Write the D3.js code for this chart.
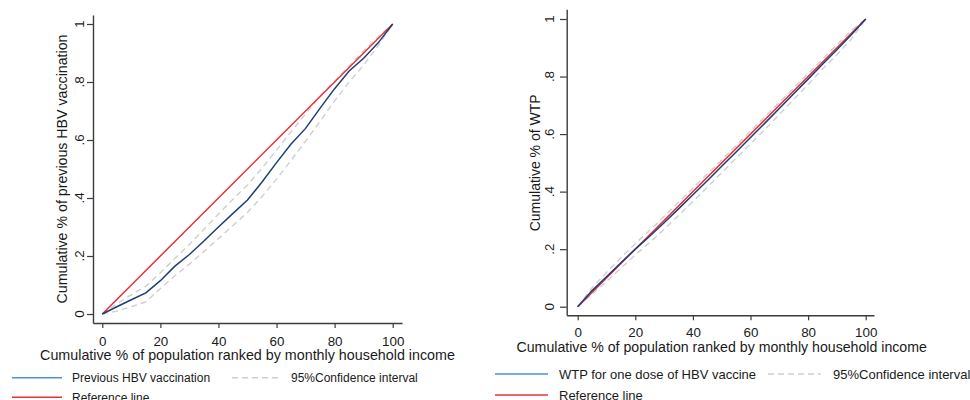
<!DOCTYPE html>
<html>
<head>
<meta charset="utf-8">
<script src="https://cdn.jsdelivr.net/npm/d3@7"></script>
<style>
  html, body { margin: 0; padding: 0; background: #fff; }
  svg { display: block; }
  text { font-family: "Liberation Sans", Arial, sans-serif; fill: #1a1a1a; }
</style>
</head>
<body>
<svg id="chart" width="970" height="400"></svg>
<script>
// ---------------- DATA ----------------
const popPct = [0, 5, 10, 15, 20, 25, 30, 35, 40, 45, 50, 55, 60, 65, 70, 75, 80, 85, 90, 95, 100];

// Left panel: concentration curve of previous HBV vaccination
const vaccConc  = [0, 0.025, 0.049, 0.073, 0.115, 0.165, 0.205, 0.252, 0.300, 0.347, 0.393, 0.455, 0.522, 0.586, 0.640, 0.710, 0.777, 0.838, 0.882, 0.935, 1.0];
const vaccUpper = [0, 0.035, 0.066, 0.096, 0.142, 0.192, 0.240, 0.292, 0.345, 0.396, 0.445, 0.503, 0.565, 0.628, 0.690, 0.752, 0.803, 0.856, 0.907, 0.956, 1.0];
const vaccLower = [0, 0.010, 0.025, 0.042, 0.088, 0.132, 0.172, 0.216, 0.260, 0.305, 0.350, 0.405, 0.465, 0.530, 0.596, 0.664, 0.735, 0.800, 0.858, 0.925, 1.0];

// Right panel: concentration curve of WTP for one dose of HBV vaccine
const wtpConc  = [0, 0.056, 0.104, 0.153, 0.200, 0.245, 0.292, 0.340, 0.389, 0.438, 0.488, 0.538, 0.588, 0.638, 0.689, 0.740, 0.791, 0.843, 0.893, 0.945, 1.0];
const wtpUpper = [0, 0.066, 0.119, 0.170, 0.219, 0.266, 0.314, 0.363, 0.412, 0.461, 0.510, 0.560, 0.610, 0.660, 0.710, 0.760, 0.810, 0.860, 0.910, 0.960, 1.0];
const wtpLower = [0, 0.044, 0.088, 0.134, 0.180, 0.223, 0.269, 0.317, 0.366, 0.415, 0.466, 0.516, 0.566, 0.616, 0.668, 0.720, 0.772, 0.826, 0.876, 0.930, 1.0];

// Reference (equality) line
const refX = [0, 100];
const refY = [0, 1];

// Ticks
const xTicks = [0, 20, 40, 60, 80, 100];
const yTicks = [0, 0.2, 0.4, 0.6, 0.8, 1];
const yTickLabels = ["0", ".2", ".4", ".6", ".8", "1"];

// Text
const xTitle = "Cumulative % of population ranked by monthly household income";
const leftYTitle = "Cumulative % of previous HBV vaccination";
const rightYTitle = "Cumulative % of WTP";
const leftSeriesName = "Previous HBV vaccination";
const rightSeriesName = "WTP for one dose of HBV vaccine";
const ciName = "95%Confidence interval";
const refName = "Reference line";

// ---------------- STYLE ----------------
const COL_CONC = "#1d3f78";
const COL_CONC_LEG = "#4a93d3";
const COL_REF = "#e8303b";
const COL_CI = "#cfcfcf";
const COL_AXIS = "#3c3c3c";
const FONT = '"Liberation Sans", Arial, sans-serif';

const svg = d3.select("#chart");

function panel(cfg) {
  const g = svg.append("g");
  const x = d3.scaleLinear().domain(cfg.xDom).range(cfg.xRange);
  const y = d3.scaleLinear().domain(cfg.yDom).range(cfg.yRange);

  // x axis
  const xa = g.append("g")
    .attr("transform", `translate(0,${cfg.yRange[0]})`)
    .call(d3.axisBottom(x).tickValues(xTicks).tickSize(5).tickPadding(cfg.xPad).tickSizeOuter(0));
  xa.attr("font-size", null).attr("font-family", null);
  xa.select(".domain").attr("stroke", COL_AXIS).attr("stroke-width", 1.4);
  xa.selectAll(".tick line").attr("stroke", COL_AXIS).attr("stroke-width", 1.2);
  xa.selectAll(".tick text")
    .style("font-size", cfg.tickFs + "px")
    .style("font-family", FONT)
    .attr("fill", "#1a1a1a");

  // y axis
  const ya = g.append("g")
    .attr("transform", `translate(${cfg.xRange[0]},0)`)
    .call(d3.axisLeft(y).tickValues(yTicks).tickSize(cfg.yTickLen).tickFormat("").tickSizeOuter(0));
  ya.select(".domain").attr("stroke", COL_AXIS).attr("stroke-width", 1.4);
  ya.selectAll(".tick line").attr("stroke", COL_AXIS).attr("stroke-width", 1.2);

  // rotated y tick labels
  g.selectAll(".ylab").data(yTicks).enter().append("text")
    .attr("class", "ylab")
    .attr("transform", (d) => `translate(${cfg.yLabX},${y(d)}) rotate(-90)`)
    .attr("text-anchor", "middle")
    .style("font-size", cfg.tickFs + "px")
    .text((d, i) => yTickLabels[i]);

  // axis titles
  g.append("text")
    .attr("x", (x(0) + x(100)) / 2 + cfg.xTitleShift)
    .attr("y", cfg.xTitleY)
    .attr("text-anchor", "middle")
    .style("font-size", cfg.titleFs + "px")
    .text(xTitle);
  g.append("text")
    .attr("transform", `translate(${cfg.yTitleX},${(y(0) + y(1)) / 2}) rotate(-90)`)
    .attr("text-anchor", "middle")
    .style("font-size", cfg.yTitleFs + "px")
    .text(cfg.yTitle);

  const line = d3.line().x((d) => x(d[0])).y((d) => y(d[1]));

  // CI bounds
  [cfg.upper, cfg.lower].forEach((s) => {
    g.append("path")
      .datum(popPct.map((p, i) => [p, s[i]]))
      .attr("d", line)
      .attr("fill", "none")
      .attr("stroke", COL_CI)
      .attr("stroke-width", 1.4)
      .attr("stroke-dasharray", "6,4");
  });
  // reference line
  g.append("path")
    .datum(refX.map((p, i) => [p, refY[i]]))
    .attr("d", line)
    .attr("fill", "none")
    .attr("stroke", COL_REF)
    .attr("stroke-width", 1.5);
  // concentration curve
  g.append("path")
    .datum(popPct.map((p, i) => [p, cfg.conc[i]]))
    .attr("d", line)
    .attr("fill", "none")
    .attr("stroke", COL_CONC)
    .attr("stroke-width", 1.5);

  // legend
  const L = cfg.legend;
  g.append("line").attr("x1", L.x0).attr("x2", L.x0 + L.len).attr("y1", L.y1).attr("y2", L.y1)
    .attr("stroke", COL_CONC_LEG).attr("stroke-width", 1.6);
  g.append("text").attr("x", L.tx).attr("y", L.y1 + L.dy).style("font-size", L.fs + "px").text(cfg.seriesName);
  g.append("line").attr("x1", L.x2).attr("x2", L.x2 + L.len).attr("y1", L.y1).attr("y2", L.y1)
    .attr("stroke", COL_CI).attr("stroke-width", 1.4).attr("stroke-dasharray", "6,4");
  g.append("text").attr("x", L.tx2).attr("y", L.y1 + L.dy).style("font-size", L.fs + "px").text(ciName);
  g.append("line").attr("x1", L.x0).attr("x2", L.x0 + L.len).attr("y1", L.y2).attr("y2", L.y2)
    .attr("stroke", COL_REF).attr("stroke-width", 1.6);
  g.append("text").attr("x", L.tx).attr("y", L.y2 + L.dy).style("font-size", L.fs + "px").text(refName);
}

panel({
  xDom: [-3.2, 103.2], xRange: [93, 402],
  yDom: [-0.031, 1.031], yRange: [323, 15],
  xPad: 8.5, tickFs: 13.4, yTickLen: 6, yLabX: 83.5,
  titleFs: 14.3, xTitleY: 360, xTitleShift: 0,
  yTitleFs: 14.2, yTitleX: 66.5, yTitle: leftYTitle,
  conc: vaccConc, upper: vaccUpper, lower: vaccLower, seriesName: leftSeriesName,
  legend: { x0: 12, len: 50, tx: 72, x2: 232, tx2: 291, y1: 377.7, y2: 397.3, dy: 4.3, fs: 12 }
});

panel({
  xDom: [-3.82, 102.88], xRange: [566.7, 874],
  yDom: [-0.0299, 1.0337], yRange: [315.3, 9.3],
  xPad: 7.2, tickFs: 13.4, yTickLen: 6.7, yLabX: 554,
  titleFs: 14.15, xTitleY: 351.7, xTitleShift: 0,
  yTitleFs: 14.0, yTitleX: 539.5, yTitle: rightYTitle,
  conc: wtpConc, upper: wtpUpper, lower: wtpLower, seriesName: rightSeriesName,
  legend: { x0: 495, len: 53, tx: 559, x2: 768, tx2: 833, y1: 374, y2: 395, dy: 4.6, fs: 13 }
});
</script>
</body>
</html>
